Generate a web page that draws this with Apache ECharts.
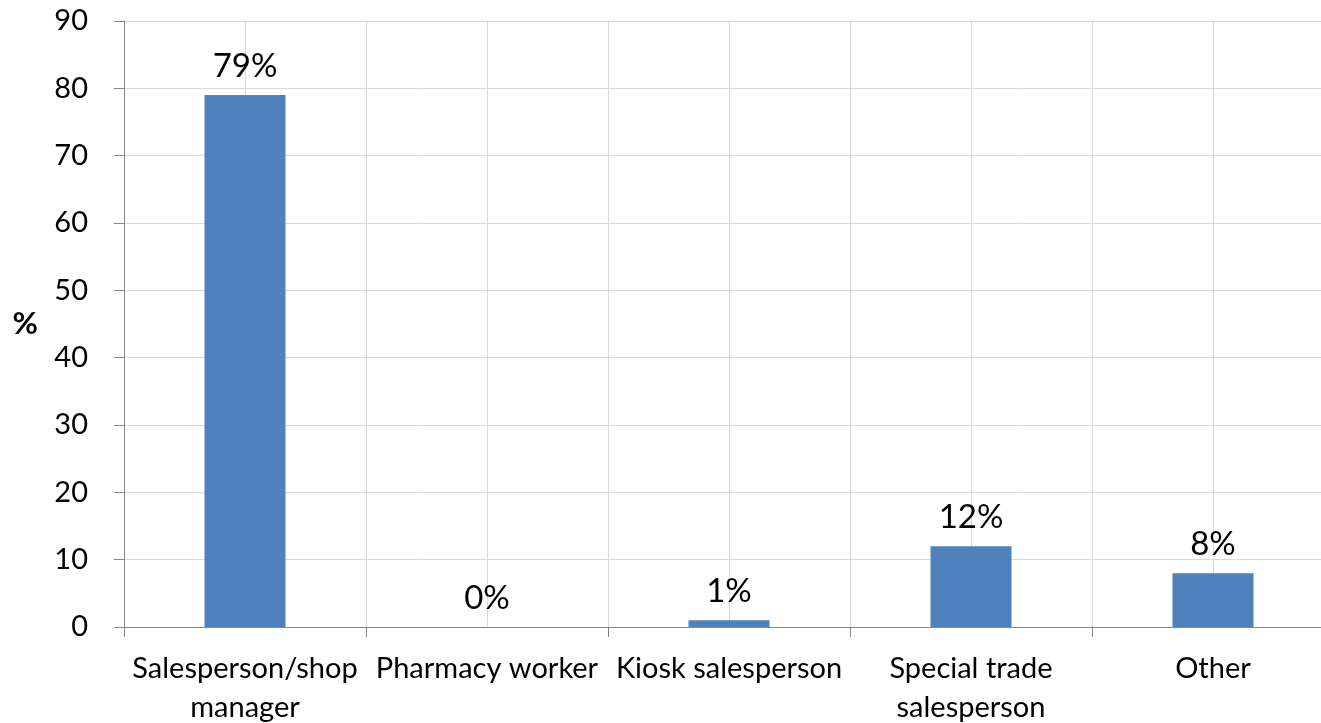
<!DOCTYPE html>
<html>
<head>
<meta charset="utf-8">
<script src="https://cdn.jsdelivr.net/npm/echarts@6/dist/echarts.min.js"></script>
<style>html,body{margin:0;padding:0;background:#fff}#c{width:1321px;height:723px}</style>
</head>
<body>
<div id="c"></div>
<script>
const categories = ["Salesperson/shop\nmanager", "Pharmacy worker", "Kiosk salesperson", "Special trade\nsalesperson", "Other"];
const values = [79, 0, 1, 12, 8];
const yTicks = { min: 0, max: 90, interval: 10 };
const yName = "%";

const chart = echarts.init(document.getElementById('c'));
const font = 'Lato, "Open Sans", sans-serif';
chart.setOption({
  animation: false,
  grid: { left: 124, top: 21, width: 1210, bottom: 96, outerBoundsMode: 'none', containLabel: false },
  xAxis: [
    {
      type: 'category', data: categories,
      axisLine: { lineStyle: { color: '#868686', width: 1 } },
      axisTick: { show: true, length: 10, lineStyle: { color: '#868686' } },
      axisLabel: { color: '#000', fontSize: 29, fontFamily: font, margin: 22, lineHeight: 39, interval: 0 },
      splitLine: { show: false }
    },
    {
      type: 'value', min: 0, max: 10, interval: 1, position: 'bottom',
      axisLine: { show: false }, axisTick: { show: false }, axisLabel: { show: false },
      splitLine: { show: true, lineStyle: { color: '#D9D9D9', width: 1 } }
    }
  ],
  yAxis: {
    type: 'value', min: yTicks.min, max: yTicks.max, interval: yTicks.interval,
    name: yName, nameLocation: 'middle', nameRotate: 0, nameGap: 86,
    nameTextStyle: { color: '#000', fontSize: 31, fontWeight: 'bold', fontFamily: font },
    axisLine: { show: true, lineStyle: { color: '#868686', width: 1 } },
    axisTick: { show: true, length: 10, lineStyle: { color: '#868686' } },
    axisLabel: { color: '#000', fontSize: 29, fontFamily: font, margin: 36 },
    splitLine: { show: true, lineStyle: { color: '#D9D9D9', width: 1 } }
  },
  series: [{
    type: 'bar', data: values, xAxisIndex: 0, barWidth: 81,
    itemStyle: { color: '#4F81BD' },
    label: { show: true, position: 'top', distance: 12, formatter: '{c}%', color: '#000', fontSize: 33, fontFamily: font }
  }]
});
</script>
</body>
</html>
